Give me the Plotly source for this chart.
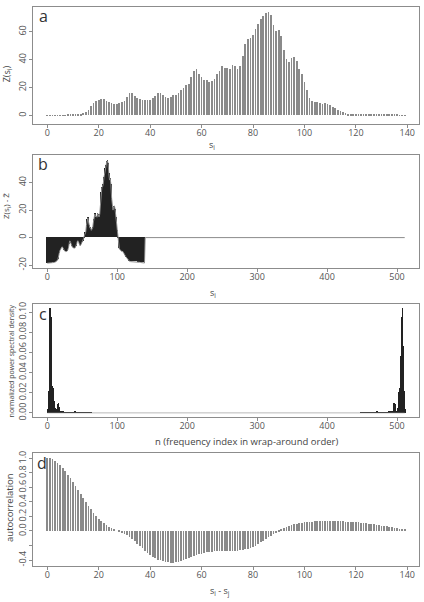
import plotly.graph_objects as go

# ---------------- data ----------------
# panel a: Z(s_i), i = 0..139
z_values = [
    0.1, 0.1, 0.1, 0.15, 0.2, 0.2, 0.25, 0.3, 0.4, 0.5, 0.6, 0.8,
    1.0, 1.3, 1.8, 2.6,
    4.2, 7.0, 9.2, 10.5, 11.4, 12.0, 11.6, 10.4, 9.4, 8.8, 8.5, 8.4, 8.6, 9.3,
    10.6, 13.4, 16.2, 16.0, 14.2, 12.4, 11.6, 11.3, 11.0, 11.0,
    11.2, 12.3, 14.2, 16.0, 16.4, 15.0, 13.4, 12.6, 13.4, 14.4,
    15.0, 16.2, 18.0, 20.0, 22.2, 22.6, 27.5, 32.0, 33.0, 30.0,
    27.5, 25.5, 25.7, 23.9, 24.9, 26.0, 30.0, 32.0, 35.8, 33.7,
    34.2, 33.4, 36.2, 35.2, 33.6, 35.6, 43.0, 51.6, 55.0, 55.4,
    57.4, 62.0, 65.6, 69.0, 71.0, 73.6, 74.4, 72.4, 65.0, 60.4,
    61.6, 57.0, 47.2, 40.4, 38.6, 41.2, 41.6, 39.0, 33.6, 29.6,
    24.0, 18.4, 12.4, 10.4, 9.8, 9.4, 8.6, 8.4, 8.6, 8.0,
    7.2, 6.0, 5.0, 4.2, 3.4, 2.6, 1.8, 1.4, 1.2, 1.2,
    1.2, 1.2, 1.2, 1.2, 1.2, 1.2, 1.1, 1.1, 1.0, 1.0,
    0.9, 0.8, 0.7, 0.6, 0.5, 0.4, 0.35, 0.3, 0.25, 0.2,
]
s_index = list(range(len(z_values)))

# panel b: zero padded length
n_padded = 512

# panel c: normalized power spectral density (wrap-around order)
psd_low = [  # n = 0..63
    0.0, 0.004, 0.022, 0.066, 0.104, 0.095, 0.056, 0.027, 0.025, 0.021,
    0.012, 0.005, 0.002, 0.002, 0.004, 0.009, 0.010, 0.006, 0.002, 0.001,
    0.0012, 0.0015, 0.001, 0.0006, 0.0004, 0.0003, 0.0003, 0.0004, 0.0005, 0.0004,
    0.0003, 0.0004, 0.0006, 0.0008, 0.0009, 0.0008, 0.0006, 0.0005, 0.0007, 0.0009,
    0.001, 0.0008, 0.0006, 0.0005, 0.0007, 0.0008, 0.0006, 0.0004, 0.0003, 0.0004,
    0.0005, 0.0004, 0.0003, 0.0002, 0.0003, 0.0004, 0.0003, 0.0002, 0.0002, 0.0001,
    0.0001, 0.0001, 0.0001, 0.0001,
]
psd_mid = [0.0] * 384  # n = 64..447 (flat, essentially zero)
psd_high = [  # n = 448..511
    0.0001, 0.0001, 0.0001, 0.0001, 0.0001,
    0.0002, 0.0002, 0.0003, 0.0004, 0.0003, 0.0002, 0.0003, 0.0004, 0.0005,
    0.0004, 0.0003, 0.0004, 0.0006, 0.0008, 0.0007, 0.0005, 0.0006, 0.0008, 0.001,
    0.0009, 0.0007, 0.0005, 0.0006, 0.0008, 0.0009, 0.0008, 0.0006, 0.0004, 0.0003,
    0.0004, 0.0005, 0.0004, 0.0003, 0.0003, 0.0004, 0.0006, 0.001, 0.0015, 0.0012,
    0.001, 0.001, 0.002, 0.006, 0.010, 0.009, 0.004, 0.002, 0.002, 0.005,
    0.012, 0.021, 0.025, 0.027, 0.056, 0.095, 0.104, 0.066, 0.022, 0.004,
]

# panel d: autocorrelation, lag 0..139
acf_values = [
    1.00, 0.995, 0.98, 0.96, 0.93, 0.90, 0.86, 0.82, 0.77, 0.72,
    0.67, 0.62, 0.56, 0.50, 0.45, 0.39, 0.34, 0.29, 0.24, 0.20,
    0.16, 0.13, 0.10, 0.07, 0.05, 0.03, 0.015, 0.0, -0.015, -0.03,
    -0.045, -0.06, -0.09, -0.12, -0.15, -0.18, -0.21, -0.24, -0.28, -0.31,
    -0.34, -0.36, -0.38, -0.40, -0.41, -0.42, -0.43, -0.44, -0.445, -0.445,
    -0.44, -0.43, -0.42, -0.40, -0.39, -0.38, -0.36, -0.35, -0.34, -0.33,
    -0.32, -0.31, -0.30, -0.295, -0.29, -0.285, -0.28, -0.28, -0.28, -0.28,
    -0.28, -0.28, -0.28, -0.28, -0.28, -0.275, -0.27, -0.26, -0.25, -0.24,
    -0.225, -0.21, -0.19, -0.165, -0.14, -0.12, -0.095, -0.07, -0.05, -0.03,
    -0.01, 0.01, 0.03, 0.045, 0.06, 0.07, 0.085, 0.095, 0.105, 0.11,
    0.115, 0.12, 0.122, 0.124, 0.125, 0.126, 0.127, 0.128, 0.129, 0.13,
    0.13, 0.13, 0.13, 0.13, 0.128, 0.126, 0.124, 0.122, 0.12, 0.118,
    0.115, 0.112, 0.108, 0.104, 0.10, 0.095, 0.09, 0.085, 0.08, 0.074,
    0.068, 0.062, 0.056, 0.05, 0.044, 0.038, 0.032, 0.026, 0.02, 0.012,
]

ticks_a = [0, 20, 40, 60, 80, 100, 120, 140]
ticks_b = [0, 100, 200, 300, 400, 500]
yticks_a = [0, 20, 40, 60]
yticks_b = [-20, 0, 20, 40]
yticks_c = [0.0, 0.02, 0.04, 0.06, 0.08, 0.10]
yticks_d = [-0.4, -0.2, 0.0, 0.2, 0.4, 0.6, 0.8, 1.0]
yticklabels_d = ["-0.4", "", "0.0", "0.2", "0.4", "0.6", "0.8", "1.0"]

# ---------------- derived ----------------
z_mean = sum(z_values) / len(z_values)
z_centered = [v - z_mean for v in z_values]
padded = z_centered + [0.0] * (n_padded - len(z_values))
n_index = list(range(n_padded))
psd = psd_low + psd_mid + psd_high
lag_index = list(range(len(acf_values)))

# ---------------- figure ----------------
W, H = 424, 602
FONT = "Open Sans"
FRAME = "#8c8c8c"
TICKC = "#555555"

fig = go.Figure()

fig.add_trace(go.Bar(x=s_index, y=z_values, width=0.3, marker=dict(color="#8a8a8a", line=dict(width=0)),
                     xaxis="x", yaxis="y"))
fig.add_trace(go.Scatter(x=n_index, y=padded, mode="lines", line=dict(color="#8c8c8c", width=1),
                         xaxis="x2", yaxis="y2"))
fig.add_trace(go.Bar(x=s_index, y=z_centered, width=1.0, marker=dict(color="#222222", line=dict(width=0)),
                     xaxis="x2", yaxis="y2"))
fig.add_trace(go.Bar(x=n_index, y=psd, width=1.0, marker=dict(color="#222222", line=dict(width=0)),
                     xaxis="x3", yaxis="y3"))
fig.add_trace(go.Scatter(x=n_index, y=[0.0] * n_padded, mode="lines", line=dict(color="#8c8c8c", width=0.6),
                         xaxis="x3", yaxis="y3"))
fig.add_trace(go.Bar(x=lag_index, y=acf_values, width=0.3, marker=dict(color="#8a8a8a", line=dict(width=0)),
                     xaxis="x4", yaxis="y4"))

def px_to_paper_y(p):
    return 1 - p / H

x_dom = [33 / W, 419 / W]
panels = {
    "": (4, 122),
    "2": (154, 268),
    "3": (304, 418.3),
    "4": (455, 569),
}

common_axis = dict(showline=True, mirror=True, linecolor=FRAME, linewidth=1,
                   ticks="outside", ticklen=3, tickcolor=FRAME, tickwidth=1,
                   showgrid=False, zeroline=False,
                   tickfont=dict(family=FONT, size=9, color=TICKC))

layout = dict(width=W, height=H, margin=dict(l=0, r=0, t=0, b=0),
              paper_bgcolor="white", plot_bgcolor="white", showlegend=False,
              bargap=0, font=dict(family=FONT))

xranges = {"": [-5.56, 144.56], "2": [-20.4, 531.4], "3": [-20.4, 531.4], "4": [-5.56, 144.56]}
yranges = {"": [-6.0, 77.8], "2": [-22.3, 59.6], "3": [-0.0042, 0.108], "4": [-0.487, 1.068]}
xticks = {"": ticks_a, "2": ticks_b, "3": ticks_b, "4": ticks_a}
yticks = {"": (yticks_a, [str(v) for v in yticks_a]),
          "2": (yticks_b, [str(v) for v in yticks_b]),
          "3": (yticks_c, ["%.2f" % v for v in yticks_c]),
          "4": (yticks_d, yticklabels_d)}

for k, (top, bot) in panels.items():
    ydom = [px_to_paper_y(bot), px_to_paper_y(top)]
    xa = dict(common_axis, domain=x_dom, range=xranges[k], tickmode="array",
              tickvals=xticks[k], ticktext=[str(v) for v in xticks[k]],
              anchor="y" + k, ticklabelstandoff=-3)
    ya = dict(common_axis, domain=ydom, range=yranges[k], tickmode="array",
              tickvals=yticks[k][0], ticktext=yticks[k][1], tickangle=-90,
              anchor="x" + k, ticklabelstandoff=-1)
    layout["xaxis" + k] = xa
    layout["yaxis" + k] = ya

fig.update_layout(**layout)

def ann(text, x, y, size, color="#444444", angle=0):
    fig.add_annotation(text=text, x=x / W, y=1 - y / H, xref="paper", yref="paper",
                       showarrow=False, textangle=angle, xanchor="center", yanchor="middle",
                       font=dict(family=FONT, size=size, color=color))

# panel letters
ann("a", 43, 13, 16, "#333333")
ann("b", 43, 163, 16, "#333333")
ann("c", 43, 314, 16, "#333333")
ann("d", 42, 465, 16, "#333333")

# axis titles
ann("s<sub>i</sub>", 212, 143, 9)
ann("Z(s<sub>i</sub>)", 7, 72, 9, angle=-90)
ann("s<sub>i</sub>", 213, 293, 9)
ann("Z(s<sub>i</sub>) - Z\u0304", 7, 205, 8, angle=-90)
ann("n (frequency index in wrap-around order)", 247, 443, 9.5)
ann("normalized power spectral density", 11, 362, 7, angle=-90)
ann("s<sub>i</sub> - s<sub>j</sub>", 220, 594, 9)
ann("autocorrelation", 10, 510, 9.5, angle=-90)

fig.write_html("out.html")
